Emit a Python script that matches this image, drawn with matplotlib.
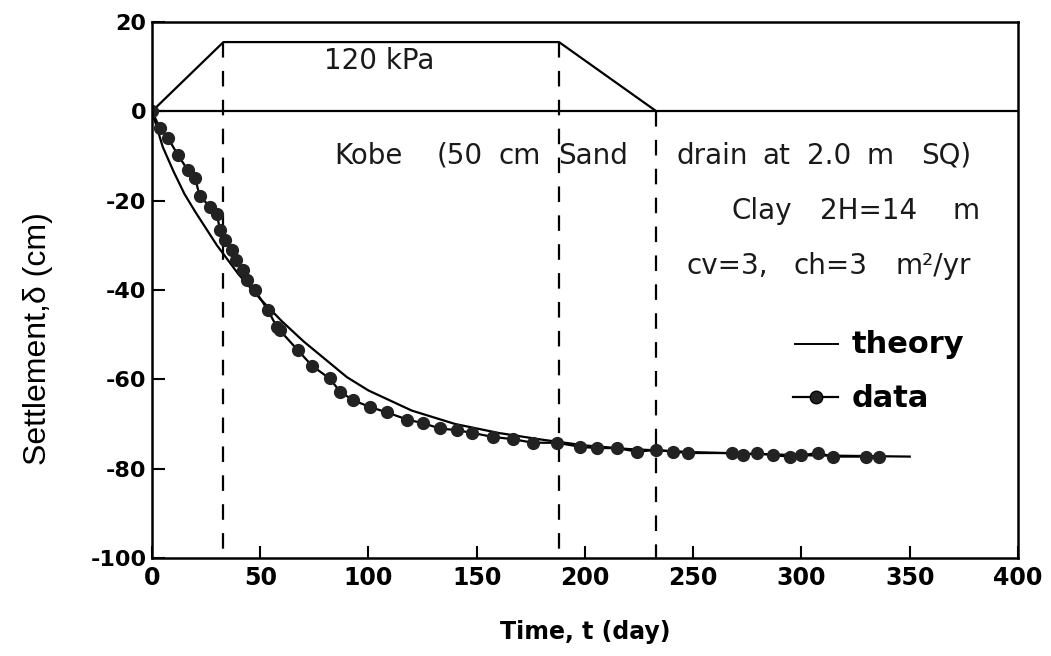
import matplotlib
matplotlib.use("Agg")
import matplotlib.pyplot as plt

# ---- data ----
data_t = [0, 3.7, 7.4, 12, 16.6, 20, 22, 27, 30, 31.4, 33.7, 37, 39, 42, 44, 47.5,
          53.5, 57.7, 59, 67.4, 74, 82, 87, 93, 100.7, 108.5, 117.8, 125, 133, 141,
          148, 157.5, 166.7, 176, 187, 197.7, 205.5, 214.8, 224, 233, 240.7, 247.6,
          268, 273, 279.4, 287, 294.7, 300, 307.6, 314.5, 330, 336]
data_s = [0, -3.8, -6, -9.8, -13.2, -15, -19, -21.4, -23, -26.6, -28.9, -31, -33.3,
          -35.6, -37.8, -40, -44.5, -48.3, -49, -53.5, -57, -59.8, -62.8, -64.7, -66.2,
          -67.4, -69, -69.8, -71, -71.4, -72, -72.9, -73.4, -74.2, -74.2, -75.1, -75.4,
          -75.4, -76.2, -75.8, -76.2, -76.5, -76.5, -77, -76.5, -77, -77.3, -77,
          -76.5, -77.3, -77.3, -77.3]

theory_t = [0, 5, 10, 15, 20, 30, 40, 50, 60, 70, 80, 90, 100, 120, 140, 160, 180,
            200, 220, 250, 300, 350]
theory_s = [0, -8, -13.5, -18.5, -22.5, -30, -36.5, -42, -47, -51.5, -55.5, -59.5,
            -62.5, -67, -70, -72, -73.5, -74.8, -75.6, -76.3, -77, -77.3]

load_t = [0, 33, 188, 233]
load_v = [0, 15.5, 15.5, 0]
stage_t = [33, 188, 233]
stage_top = [15.5, 15.5, 0]

x_ticks = [0, 50, 100, 150, 200, 250, 300, 350, 400]
y_ticks = [20, 0, -20, -40, -60, -80, -100]

# annotation lines (words spread as in the original typesetting)
line1_words = ['Kobe', '(50', 'cm', 'Sand', 'drain', 'at', '2.0', 'm', 'SQ)']
line2_words = ['Clay', '2H=14', 'm']
line3_words = ['cv=3,', 'ch=3', 'm²/yr']

plt.rcParams['font.family'] = ['DejaVu Sans']

fig = plt.figure(figsize=(10.51, 6.56), dpi=100)
ax = fig.add_axes([0.1446, 0.1494, 0.8240, 0.8171])

ax.set_xlim(0, 400)
ax.set_ylim(-100, 20)

# load diagram and zero line
ax.axhline(0, color='black', lw=1.6)
ax.plot(load_t, load_v, color='black', lw=1.6)
for t, top in zip(stage_t, stage_top):
    ax.plot([t, t], [top, -100], color='black', lw=1.6, dashes=(7, 6))

# theory and data
ax.plot(theory_t, theory_s, color='black', lw=1.6)
ax.plot(data_t, data_s, color='black', lw=1.6, marker='o', markersize=8.5,
        markerfacecolor='#222222', markeredgecolor='#222222')

# annotations
tc = '#1a1a1a'
ax.text(105, 11.3, '120 kPa', ha='center', va='center', fontsize=20, color=tc)

line1_x = [99.8, 142.3, 170.0, 203.9, 258.7, 288.5, 312.7, 336.3, 367.0]
line2_x = [281.8, 331.2, 376.2]
line3_x = [265.6, 313.2, 361.0]
for words, xs, yv in [(line1_words, line1_x, -10), (line2_words, line2_x, -22.3),
                      (line3_words, line3_x, -34.7)]:
    for w, x in zip(words, xs):
        ax.text(x, yv, w, ha='center', va='center', fontsize=20, color=tc)

# legend drawn manually
ax.plot([297, 317], [-52, -52], color='black', lw=1.4)
ax.text(323, -52.3, 'theory', ha='left', va='center', fontsize=22, fontweight='bold')
ax.plot([296, 317], [-64, -64], color='black', lw=1.6)
ax.plot([306.5], [-64], color='black', marker='o', markersize=9, markerfacecolor='#222222')
ax.text(323, -64.3, 'data', ha='left', va='center', fontsize=22, fontweight='bold')

ax.set_xticks(x_ticks)
ax.set_yticks(y_ticks)
ax.set_xticklabels([str(v) for v in x_ticks], fontsize=17, fontweight='bold')
ax.set_yticklabels([str(v) for v in y_ticks], fontsize=16, fontweight='bold')
ax.tick_params(direction='in', length=9, width=1.5, pad=6)
ax.tick_params(axis='y', pad=4)

for sp in ax.spines.values():
    sp.set_linewidth(1.8)

ax.set_xlabel('Time, t (day)', fontsize=17, fontweight='bold')
ax.xaxis.set_label_coords(0.5, -0.115)
ax.set_ylabel('Settlement,δ (cm)', fontsize=23, family=['Liberation Sans', 'DejaVu Sans'])
ax.yaxis.set_label_coords(-0.114, 0.41)

fig.savefig('out.png', dpi=100)
